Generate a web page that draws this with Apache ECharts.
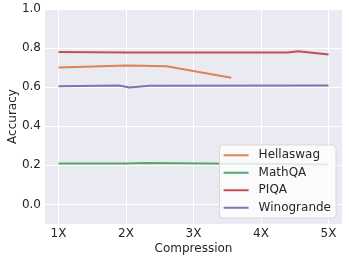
<!DOCTYPE html>
<html>
<head>
<meta charset="utf-8">
<script src="https://cdn.jsdelivr.net/npm/echarts@6/dist/echarts.min.js"></script>
<style>html,body{margin:0;padding:0;background:#fff}#c{width:349px;height:262px}</style>
</head>
<body>
<div id="c"></div>
<script>
const seriesNames = ['Hellaswag', 'MathQA', 'PIQA', 'Winogrande'];
const colors = ['#dd8452', '#55a868', '#c44e52', '#8172b3'];
const hellaswagX = [1, 2, 2.6, 3.56];
const hellaswagY = [0.701, 0.711, 0.707, 0.648];
const mathqaX = [1, 2, 2.3, 5];
const mathqaY = [0.209, 0.209, 0.212, 0.205];
const piqaX = [1, 2, 4.4, 4.55, 5];
const piqaY = [0.780, 0.778, 0.778, 0.784, 0.767];
const winograndeX = [1, 1.9, 2.05, 2.35, 5];
const winograndeY = [0.605, 0.609, 0.598, 0.607, 0.608];
const xTicks = [1, 2, 3, 4, 5];
const yTicks = [0.0, 0.2, 0.4, 0.6, 0.8, 1.0];

const pairs = (xs, ys) => xs.map((x, i) => [x, ys[i]]);
const allData = [pairs(hellaswagX, hellaswagY), pairs(mathqaX, mathqaY), pairs(piqaX, piqaY), pairs(winograndeX, winograndeY)];
const font = 'DejaVu Sans';
const txt = '#262626';

const gridLines = xTicks.map(v => ({ xAxis: v })).concat(yTicks.map(v => ({ yAxis: v })));

const chart = echarts.init(document.getElementById('c'));
chart.setOption({
  animation: false,
  textStyle: { fontFamily: font },
  grid: { left: 45, right: 7, top: 9, bottom: 38, containLabel: false, outerBoundsMode: 'none',
    show: true, backgroundColor: '#eaeaf2', borderWidth: 0 },
  xAxis: {
    type: 'value', min: 0.8, max: 5.2,
    name: 'Compression', nameLocation: 'middle', nameGap: 19, nameMoveOverlap: false,
    nameTextStyle: { color: txt, fontSize: 12, fontFamily: font },
    axisLine: { show: false }, axisTick: { show: false, customValues: xTicks },
    axisLabel: { customValues: xTicks, formatter: v => v + 'X', color: txt, fontSize: 12, fontFamily: font, margin: 4 },
    splitLine: { show: false }
  },
  yAxis: {
    type: 'value', min: -0.1, max: 1.0,
    name: 'Accuracy', nameLocation: 'middle', nameGap: 26, nameRotate: 90, nameMoveOverlap: false,
    nameTextStyle: { color: txt, fontSize: 12, fontFamily: font },
    axisLine: { show: false }, axisTick: { show: false, customValues: yTicks },
    axisLabel: { customValues: yTicks, formatter: v => v.toFixed(1), color: txt, fontSize: 12, fontFamily: font, margin: 4 },
    splitLine: { show: false }
  },
  legend: {
    orient: 'vertical', right: 13, bottom: 44, z: 10,
    backgroundColor: 'rgba(255,255,255,0.8)', borderColor: '#d8d8d8', borderWidth: 1, borderRadius: 3,
    padding: [3, 5, 3, 4], itemGap: 3, itemWidth: 25, itemHeight: 2, icon: 'rect',
    textStyle: { color: txt, fontSize: 12, fontFamily: font, lineHeight: 14.5, padding: [0, 0, 0, 5] },
    data: seriesNames
  },
  series: [{
    type: 'line', data: [], silent: true, z: 0,
    markLine: { silent: true, z: 0, symbol: ['none', 'none'], label: { show: false },
      lineStyle: { color: '#ffffff', width: 1, type: 'solid' }, emphasis: { disabled: true }, data: gridLines }
  }].concat(seriesNames.map((n, i) => ({
    name: n, type: 'line', data: allData[i], showSymbol: false, symbol: 'none', z: 3,
    lineStyle: { color: colors[i], width: 2 }, itemStyle: { color: colors[i] }
  })))
});
</script>
</body>
</html>
